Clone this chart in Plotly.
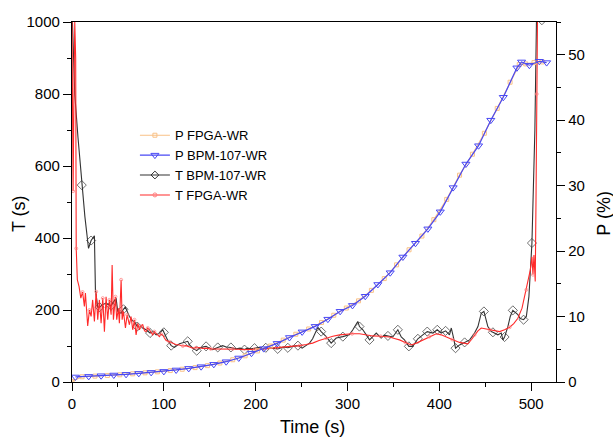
import plotly.graph_objects as go

# ---------------- data ----------------
# P BPM-107-WR (right axis, %)
t_p_bpm = [3.7, 18.2, 31.7, 45.5, 58.9, 72.7, 86.2, 100, 113.4, 127.1, 140.6, 154.4, 167.9,
           181.6, 195.4, 208.8, 223.4, 236.8, 250.6, 264.8, 278.6, 292, 305.4, 319.3, 333,
           346.5, 360.3, 374, 387.5, 401, 415, 428.9, 442.7, 456, 469.6, 484.4, 489.5, 498,
           508.8, 516.8]
p_bpm = [0.77, 0.86, 0.96, 1.07, 1.17, 1.32, 1.47, 1.62, 1.84, 2.08, 2.34, 2.7, 3.1,
         3.67, 4.4, 5.1, 5.9, 6.8, 7.66, 8.5, 9.6, 10.8, 11.7, 13.1, 14.9,
         16.7, 19.1, 21.2, 23.4, 26.0, 29.7, 33.3, 36.1, 40.0, 43.5, 48.0, 48.9, 48.4,
         49.0, 48.8]

# P FPGA-WR (right axis, %)
t_p_fpga = [0, 11, 25, 38.6, 52, 66, 79.5, 93, 107, 120, 134, 147.5, 161, 175, 188.5, 202,
            216, 230, 243.7, 257.7, 271.7, 285, 298.7, 312, 326, 340, 353.4, 367, 381, 394,
            408, 422, 436, 449, 463, 477, 487, 494, 503, 512]
p_fpga = [0.1, 0.8, 0.9, 1.0, 1.1, 1.25, 1.4, 1.55, 1.75, 1.95, 2.2, 2.5, 2.9, 3.4, 4.0, 4.75,
          5.5, 6.4, 7.3, 8.1, 9.1, 10.2, 11.3, 12.4, 14.0, 15.8, 17.9, 20.2, 22.3, 24.8,
          27.9, 31.6, 34.8, 38.0, 41.8, 45.8, 48.5, 48.6, 48.8, 48.9]

# T BPM-107-WR (left axis, s)
t_t_bpm = [0.5, 3, 6.5, 10.6, 14, 18, 20.8, 24.4, 25.5, 28, 30, 33.5, 37, 42.5, 48, 49.8,
           53.5, 56, 58, 62.5, 66, 68, 71, 75.3, 80.7, 85, 88, 91.6, 95, 98.8, 100, 104,
           108, 111.5, 117, 122.4, 126, 128, 131.5, 135.8, 138.8, 142, 146, 150, 153,
           158.7, 164, 168, 173, 178.8, 183, 187.8, 191, 195, 198.7, 204, 208, 211, 218.6,
           224, 230, 235, 240, 246, 250.6, 258.6, 262, 267.7, 271.3, 276.8, 282.2, 287.7,
           294.9, 302, 305.8, 311.2, 313, 316.7, 320.4, 324, 331.3, 336.7, 340, 344, 349.3,
           354.8, 358.5, 362, 366.8, 371, 376.6, 382, 386.8, 393, 397.7, 402, 406.8, 411,
           413, 415.5, 417.6, 422, 427.5, 433, 438.3, 442, 445.6, 448.5, 452.8, 456.5,
           458.3, 463.7, 467.4, 469.2, 471, 474.6, 477.2, 480, 485.5, 488, 491.7, 494.7,
           497.5, 500.8, 504, 506, 511.6]
T_bpm = [1000, 800, 680, 547, 460, 371, 393, 406, 256, 208, 208, 215, 219, 212, 233, 196,
         191, 202, 208, 182, 170, 168, 154, 152, 145, 136, 140, 131, 135, 145, 138, 117,
         101, 96, 106, 110, 113, 103, 94, 87, 94, 97, 99, 93, 90,
         96, 101, 97, 96, 92, 94, 90, 94, 92, 94, 96, 92, 95, 94,
         92, 97, 95, 99, 101, 94, 108, 120, 152, 140, 126, 108, 122,
         126, 131, 145, 168, 154, 145, 131, 117, 136, 122, 130, 128, 125,
         145, 125, 117, 99, 99, 120, 131, 140, 136, 145, 136, 142, 131,
         150, 122, 94, 103, 110, 117, 136, 154, 191, 196, 154, 140,
         138, 131, 136, 117, 125, 154, 182, 199, 187, 176, 173, 182,
         237, 386, 700, 1050, 1005]
# times of the T BPM-107-WR samples that carry a diamond symbol
t_bpm_symbols = [10.6, 20.8, 30, 42.5, 56, 71, 85, 100, 108, 126, 135.8, 146, 158.7, 173,
                 187.8, 198.7, 211, 224, 235, 246, 271.3, 282.2, 294.9, 313, 324, 344, 354.8,
                 366.8, 376.6, 386.8, 397.7, 406.8, 417.6, 427.5, 448.5, 458.3, 471, 480,
                 491.7, 500.8, 511.6]

# T FPGA-WR (left axis, s)
t_t_fpga = [0, 0.6, 1.2, 2.0, 3.0, 4.0, 4.6, 5.8, 7.7, 9.6, 11.5, 13.5, 14.6, 17.1, 19,
            20.8, 22.5, 24.4, 26.3, 28, 29.8, 31.7, 33.5, 35.3, 37.1, 38.9, 40.7, 42.6,
            43.7, 45.1, 47.3, 48.7, 50.5, 51.6, 53.5, 54.6, 56, 58.2, 60, 62.5, 64.3, 66.1,
            68, 69.8, 71.6, 73.4, 75, 77, 79, 80.7, 82.5, 84.3, 86, 87.9, 89.7, 91.6, 93.4,
            95.2, 97, 98.8, 100.6, 102.5, 106, 109.7, 113, 117, 120.6, 124.3, 128, 131.5,
            135, 138.8, 142, 146, 151, 157, 163, 169, 175, 181, 187, 193, 199, 205, 211.4,
            217, 223, 229.5, 236, 242, 247.7, 255, 262, 269, 276.8, 284, 291.3, 298, 305,
            313, 320, 327.5, 336, 345.7, 351, 356.6, 363, 369.4, 375, 382, 389, 396.6, 402,
            407.5, 414, 422, 431, 435, 438.3, 442, 445.6, 450, 454.7, 460, 465.6, 471,
            476.5, 481, 485.5, 490, 494.7, 497, 499, 500.8, 501.9, 503, 504.4, 505.2, 506,
            507]
T_fpga = [1000, 820, 530, 760, 1000, 900, 371, 284, 265, 233, 250, 210, 247, 156, 200,
          182, 228, 168, 251, 173, 228, 163, 233, 140, 237, 173, 228, 187,
          325, 173, 237, 173, 205, 163, 284, 173, 196, 150, 187, 159, 182, 145,
          173, 131, 163, 145, 155, 159, 142, 140, 150, 145, 138, 131, 140, 136, 130,
          126, 133, 131, 122, 115, 112, 108, 104, 103, 100, 101, 97, 94,
          95, 96, 93, 94, 92, 92, 91, 93, 92, 91, 90, 90, 91, 92, 92,
          94, 95, 96, 98, 100, 101, 104, 108, 115, 122, 127, 131, 133, 134,
          134, 131, 128, 127, 125, 121, 117, 110, 103, 108, 117, 126, 134, 131,
          126, 118, 110, 106, 118, 131, 142, 150, 148, 145, 142, 140, 145,
          152, 162, 177, 205, 256, 285, 311, 348, 298, 353, 279, 500, 800,
          1050]

# ---------------- styling ----------------
FONT = "Liberation Sans, Arial, sans-serif"
C_ORANGE = "#F9C186"
C_BLUE = "#4848F4"
C_BLACK = "#333333"
C_RED = "#FF2A2A"
C_RED_MK = "#FF8080"

sym_set = set(t_bpm_symbols)
bpm_sizes = [7 if t in sym_set else 0 for t in t_t_bpm]
fpga_sizes = [3 if i % 4 == 2 else 0 for i in range(len(t_t_fpga))]

fig = go.Figure()

fig.add_trace(go.Scatter(
    x=t_p_fpga, y=p_fpga, name="P FPGA-WR", yaxis="y2", mode="lines+markers",
    line=dict(color=C_ORANGE, width=1.2),
    marker=dict(symbol="square-open", size=4, color=C_ORANGE, line=dict(width=1))))

fig.add_trace(go.Scatter(
    x=t_p_bpm, y=p_bpm, name="P BPM-107-WR", yaxis="y2", mode="lines+markers",
    line=dict(color=C_BLUE, width=1.2),
    marker=dict(symbol="triangle-down-open", size=7, color=C_BLUE, line=dict(width=1))))

fig.add_trace(go.Scatter(
    x=t_t_bpm, y=T_bpm, name="T BPM-107-WR", mode="lines+markers", showlegend=False,
    legendgroup="tbpm",
    line=dict(color=C_BLACK, width=1.1),
    marker=dict(symbol="diamond-open", size=bpm_sizes, color=C_BLACK, line=dict(width=1))))

fig.add_trace(go.Scatter(
    x=t_t_fpga, y=T_fpga, name="T FPGA-WR", mode="lines+markers", showlegend=False,
    legendgroup="tfpga",
    line=dict(color=C_RED, width=1.1),
    marker=dict(symbol="circle-open", size=fpga_sizes, color=C_RED_MK, line=dict(width=1))))

# legend-only entries (no data) so legend symbols have a visible size
fig.add_trace(go.Scatter(
    x=[None], y=[None], name="T BPM-107-WR", mode="lines+markers", legendgroup="tbpm",
    line=dict(color=C_BLACK, width=1.1),
    marker=dict(symbol="diamond-open", size=6, color=C_BLACK, line=dict(width=1))))
fig.add_trace(go.Scatter(
    x=[None], y=[None], name="T FPGA-WR", mode="lines+markers", legendgroup="tfpga",
    line=dict(color=C_RED, width=1.1),
    marker=dict(symbol="circle-open", size=4, color=C_RED_MK, line=dict(width=1))))

axis_common = dict(
    showline=True, linecolor="black", linewidth=1.3,
    ticks="outside", ticklen=8, tickwidth=1.3, tickcolor="black",
    showgrid=False, zeroline=False,
    tickfont=dict(family=FONT, size=15, color="black"),
)

fig.update_layout(
    width=613, height=437,
    margin=dict(l=72, r=57, t=22, b=55),
    paper_bgcolor="white", plot_bgcolor="white",
    font=dict(family=FONT, color="black"),
    showlegend=True,
    legend=dict(x=0.13, y=0.727, xanchor="left", yanchor="top",
                bgcolor="rgba(0,0,0,0)", font=dict(family=FONT, size=13),
                itemwidth=30, tracegroupgap=0),
    xaxis=dict(range=[0, 527], dtick=100, mirror=True,
               minor=dict(ticks="outside", ticklen=4, dtick=50, tickcolor="black"),
               **axis_common),
    yaxis=dict(range=[0, 1000], dtick=200,
               minor=dict(ticks="outside", ticklen=4, dtick=100, tickcolor="black"),
               **axis_common),
    yaxis2=dict(range=[0, 55], dtick=10, overlaying="y", side="right",
                minor=dict(ticks="outside", ticklen=4, dtick=5, tickcolor="black"),
                **axis_common),
    annotations=[
        dict(text="Time (s)", xref="paper", yref="paper", x=0.497, y=-0.124,
             showarrow=False, font=dict(family=FONT, size=18), xanchor="center", yanchor="middle"),
        dict(text="T (s)", xref="paper", yref="paper", x=-0.109, y=0.467, textangle=-90,
             showarrow=False, font=dict(family=FONT, size=18), xanchor="center", yanchor="middle"),
        dict(text="P (%)", xref="paper", yref="paper", x=1.099, y=0.47, textangle=-90,
             showarrow=False, font=dict(family=FONT, size=18), xanchor="center", yanchor="middle"),
    ],
)

fig.write_html("out.html")
